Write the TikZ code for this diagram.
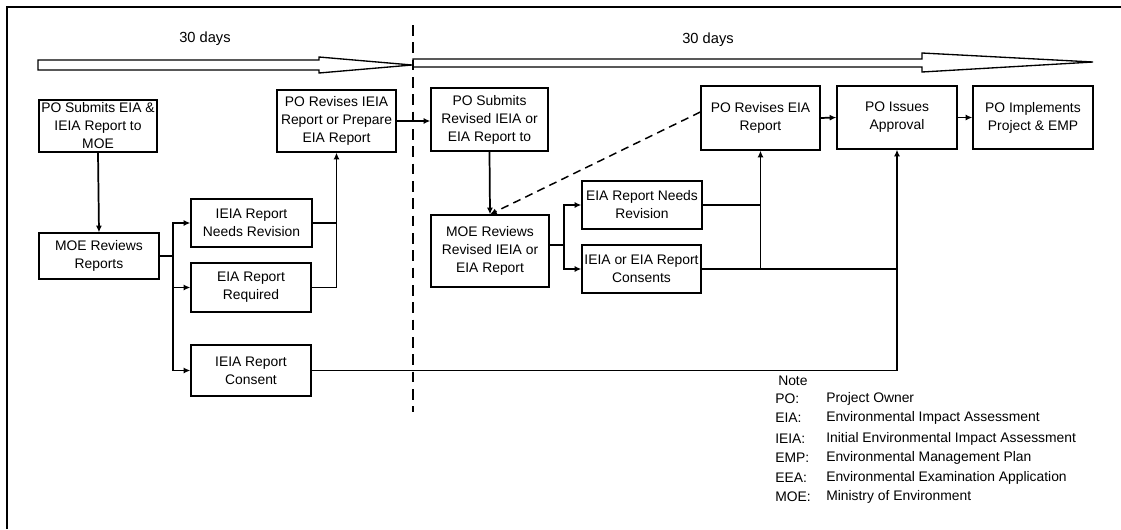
\documentclass[tikz,border=0pt]{standalone}
\usepackage{fontspec}
\setmainfont{Liberation Sans}
\usetikzlibrary{arrows.meta}
\newcommand\bx[6]{\node[box,minimum width=#4*0.75pt,minimum height=#5*0.75pt] (#1) at (#2,#3) {#6};}
\begin{document}
\begin{tikzpicture}[x=0.75pt,y=-0.75pt,
  box/.style={draw,line width=1pt,align=center,inner sep=1pt,font=\fontsize{10.4}{13.5}\selectfont},
  conn/.style={line width=1.3pt},
  arr/.style={conn,-{Latex[length=5pt,width=4.5pt]}},
  dasharr/.style={line width=1.1pt,dash pattern=on 6pt off 4pt,-{Latex[length=5pt,width=4.5pt]}},
  timebar/.style={draw,line width=1pt,fill=white},
  lbl/.style={font=\fontsize{10.4}{12}\selectfont,inner sep=0pt},
]
\useasboundingbox (0,0) rectangle (1121,529);
% frame
\draw[line width=0.9pt] (7,529) -- (7,7) -- (1121,7);
% time arrows
\draw[timebar] (38,60) -- (319,60) -- (319,57) -- (412,65) -- (319,73) -- (319,70) -- (38,70) -- cycle;
\draw[timebar] (413,59) -- (922,59) -- (922,53) -- (1093,62) -- (922,72) -- (922,67) -- (413,67) -- cycle;
\node[lbl,font=\fontsize{11}{12}\selectfont] (d1) at (205,39) {30 days};
\node[lbl,font=\fontsize{11}{12}\selectfont] (d2) at (708,40) {30 days};
% phase divider
\coordinate (dvt) at (413,25);
\coordinate (dvb) at (413,412);
\draw[line width=1.6pt,dash pattern=on 8pt off 5pt] (dvt) -- (dvb);
% boxes
\bx{b1}{98}{126}{118}{52}{PO Submits EIA \&\\IEIA Report to\\MOE}
\bx{b2}{99}{256}{120}{46}{MOE Reviews\\Reports}
\bx{b3}{251.5}{223}{121}{48}{IEIA Report\\Needs Revision}
\bx{b4}{251}{287.5}{120}{49}{EIA Report\\Required}
\bx{b5}{251}{370.5}{120}{51}{IEIA Report\\Consent}
\bx{b6}{336.5}{121}{119}{62}{PO Revises IEIA\\Report or Prepare\\EIA Report}
\bx{b7}{489.5}{119.5}{117}{63}{PO Submits\\Revised IEIA or\\EIA Report to}
\bx{b8}{490}{251}{118}{72}{MOE Reviews\\Revised IEIA or\\EIA Report}
\bx{b9}{642}{205}{120}{48}{EIA Report Needs\\Revision}
\bx{b10}{641.5}{269}{119}{48}{IEIA or EIA Report\\Consents}
\bx{b11}{760.5}{118}{119}{64}{PO Revises EIA\\Report}
\bx{b12}{897}{117.5}{120}{63}{PO Issues\\Approval}
\bx{b13}{1033}{117.5}{120}{63}{PO Implements\\Project \& EMP}
% connectors, first phase
\coordinate (j1) at (173,256);
\draw[arr] (b1.south) -- (b2.north);
\draw[conn] (b2.east) -- (j1);
\draw[arr] (j1) |- (b3.west);
\draw[arr] (j1) |- (b4.west);
\draw[arr] (j1) |- (b5.west);
\draw[conn] (b3.east) -- (b3.east -| b6.south);
\draw[arr] (b4.east) -| (b6.south);
\draw[arr] (b6.east) -- (b6.east -| b7.west);
% second phase
\draw[arr] (b7.south) -- (b8.north);
\draw[dasharr] ([yshift=4.5pt]b11.west) -- (b8.north);
\coordinate (j2) at (564,245);
\draw[conn] (b8.east |- j2) -- (j2);
\draw[arr] (j2) |- (b9.west);
\draw[arr] (j2) |- (b10.west);
\draw[conn] (b9.east) -- (b9.east -| b11.south);
\draw[arr] (b10.east) -| (b11.south);
\draw[conn] (b10.east) -- (b10.east -| b12.south);
\draw[arr] (b5.east) -| (b12.south);
\draw[arr] (b11.east) -- (b12.west);
\draw[arr] (b12.east) -- (b13.west);
% note
\node[lbl,anchor=west] (note) at (778,381) {Note};
\foreach \i/\ab/\df/\yy in {1/PO:/Project Owner/399,
  2/EIA:/Environmental Impact Assessment/418,
  3/IEIA:/Initial Environmental Impact Assessment/439,
  4/EMP:/Environmental Management Plan/458,
  5/EEA:/Environmental Examination Application/478,
  6/MOE:/Ministry of Environment/497}{
  \node[lbl,anchor=west] (ab\i) at (775,\yy) {\ab};
  \node[lbl,anchor=west] (df\i) at (826,\yy) {\df};
}
\end{tikzpicture}
\end{document}
